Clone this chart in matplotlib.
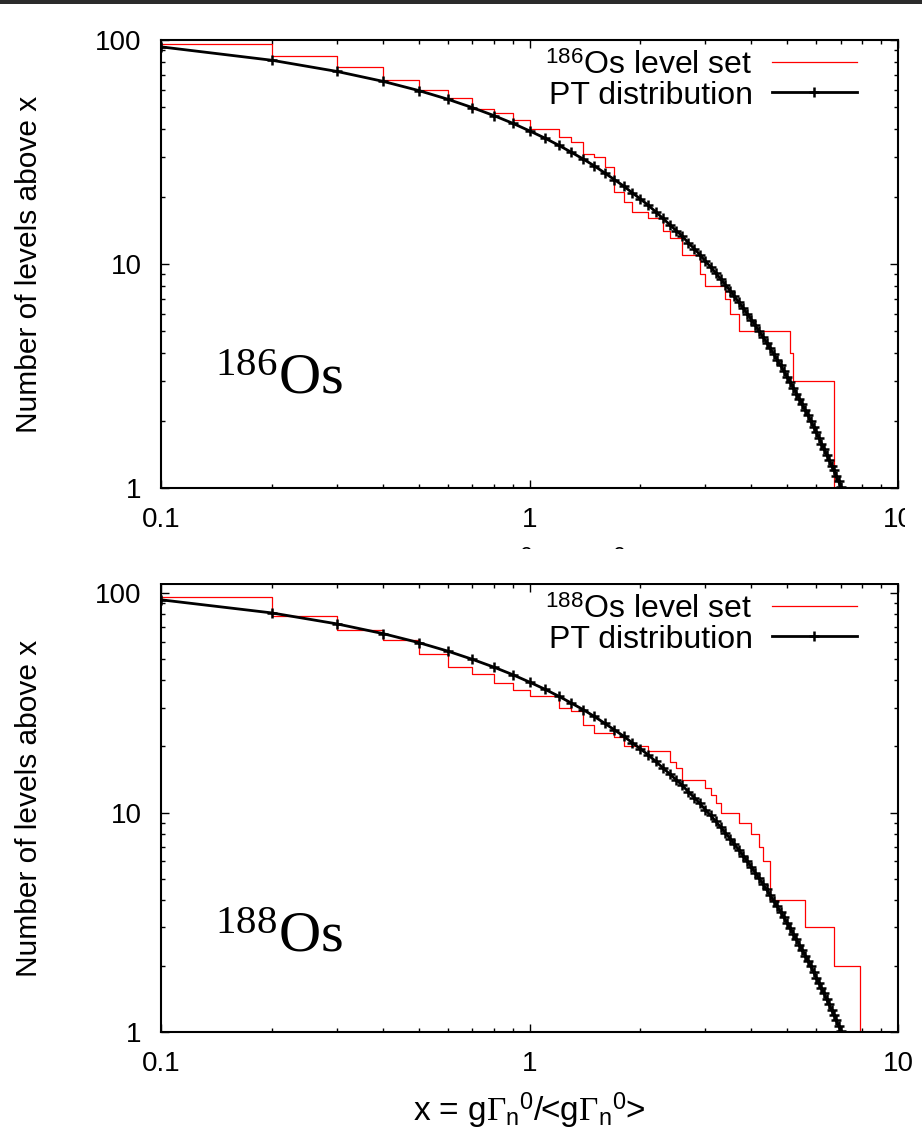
import numpy as np
import matplotlib.pyplot as plt
from matplotlib.patches import Rectangle
from matplotlib.ticker import NullFormatter

plt.rcParams['font.family'] = ['Liberation Sans', 'DejaVu Sans']
plt.rcParams['mathtext.fontset'] = 'custom'
plt.rcParams['mathtext.rm'] = 'Liberation Serif'
plt.rcParams['mathtext.it'] = 'Liberation Serif:italic'
plt.rcParams['mathtext.bf'] = 'Liberation Serif:bold'
plt.rcParams['mathtext.sf'] = 'Liberation Sans'

# Porter-Thomas curve, read at the marker positions (x = 0.1 ... 7.0)
pt_x = np.round(np.arange(1, 71) * 0.1, 1)
pt_n = [93.2, 81.2, 72.4, 65.4, 59.5, 54.4, 49.9, 46.0, 42.5, 39.3,
        36.5, 33.9, 31.5, 29.4, 27.4, 25.5, 23.8, 22.3, 20.8, 19.5,
        18.3, 17.1, 16.0, 15.0, 14.1, 13.3, 12.4, 11.7, 11.0, 10.3,
        9.71, 9.13, 8.59, 8.08, 7.61, 7.16, 6.75, 6.36, 5.99, 5.64,
        5.32, 5.01, 4.73, 4.46, 4.20, 3.96, 3.74, 3.53, 3.33, 3.14,
        2.97, 2.80, 2.64, 2.50, 2.36, 2.23, 2.11, 1.99, 1.88, 1.77,
        1.68, 1.58, 1.50, 1.41, 1.34, 1.26, 1.20, 1.13, 1.07, 1.01]

# level sets (step positions and number of levels above x)
os186_x = [0.1, 0.2, 0.3, 0.4, 0.5, 0.6, 0.7, 0.8, 0.9, 1.0, 1.2, 1.3, 1.4, 1.5, 1.6,
           1.7, 1.8, 1.9, 2.1, 2.3, 2.4, 2.6, 2.9, 3.0, 3.4, 3.5, 3.7, 5.1, 5.2, 6.7]
os186_n = [96, 85, 76, 66, 60, 55, 49, 47, 44, 40, 37, 35, 31, 30, 27,
           21, 19, 17, 16, 14, 13, 11, 9, 8, 7, 6, 5, 4, 3, 1]

os188_x = [0.1, 0.2, 0.3, 0.4, 0.5, 0.6, 0.7, 0.8, 0.9, 1.0, 1.2, 1.3, 1.4, 1.5, 1.7, 1.8,
           2.1, 2.4, 2.5, 2.6, 3.0, 3.1, 3.2, 3.3, 3.7, 4.0, 4.2, 4.3, 4.5, 5.6, 6.7, 7.9]
os188_n = [96, 79, 68, 61, 53, 46, 43, 39, 36, 34, 30, 29, 25, 23, 22, 20,
           19, 17, 16, 14, 13, 12, 11, 10, 9, 8, 7, 6, 4, 3, 2, 1]

panels = [('186', os186_x, os186_n, 100), ('188', os188_x, os188_n, 110)]

W, H = 922, 1148
fig = plt.figure(figsize=(W / 100, H / 100), dpi=100)
boxes = [(161, 40, 898, 488), (161, 584, 898, 1032)]

xlab = r'x = g$\Gamma_{\mathsf{n}}{}^{\mathsf{0}}$/<g$\Gamma_{\mathsf{n}}{}^{\mathsf{0}}$>'

for (iso, xs, ns, ytop), (l, t, r, b) in zip(panels, boxes):
    ax = fig.add_axes([l / W, 1 - b / H, (r - l) / W, (b - t) / H])
    ax.plot(xs, ns, drawstyle='steps-post', color='red', lw=0.9,
            label=r'$^{\mathsf{%s}}$Os level set' % iso)
    ax.plot(pt_x, pt_n, color='black', lw=2, marker='+', ms=7, mew=1.8,
            label='PT distribution')
    ax.set_xscale('log')
    ax.set_yscale('log')
    ax.set_xlim(0.1, 10)
    ax.set_ylim(1, ytop)
    ax.set_xticks([0.1, 1, 10])
    ax.set_xticklabels(['0.1', '1', '10'])
    ax.set_yticks([1, 10, 100])
    ax.set_yticklabels(['1', '10', '100'])
    ax.xaxis.set_minor_formatter(NullFormatter())
    ax.yaxis.set_minor_formatter(NullFormatter())
    ax.tick_params(which='both', direction='in', top=True, right=True, width=1)
    ax.tick_params(which='major', length=6, labelsize=20, pad=14)
    ax.tick_params(which='minor', length=3)
    for s in ax.spines.values():
        s.set_linewidth(1.5)

    ax.set_ylabel('Number of levels above x', fontsize=21.5)
    ax.yaxis.set_label_coords(-0.16, 0.5)
    ax.set_xlabel(xlab, fontsize=24)
    ax.xaxis.set_label_coords(0.5, -0.13 if iso == '186' else -0.132)

    ax.text(0.073, 0.212 if iso == '186' else 0.18, r'$^{%s}$Os' % iso,
            transform=ax.transAxes, fontsize=42, family='Liberation Serif',
            va='baseline', ha='left')

    ax.legend(loc='upper right', bbox_to_anchor=(0.966, 1.012), frameon=False,
              markerfirst=False, numpoints=1, fontsize=23, handlelength=2.66,
              handletextpad=0.6, borderpad=0, labelspacing=0.0)

# the second picture covers the lower part of the first one
fig.add_artist(Rectangle((0, 1 - 583 / H), 1, (583 - 549) / H, transform=fig.transFigure,
                         facecolor='white', edgecolor='none', zorder=10))
fig.add_artist(Rectangle((905 / W, 1 - 549 / H), 17 / W, (549 - 490) / H,
                         transform=fig.transFigure, facecolor='white',
                         edgecolor='none', zorder=10))
# dark strip along the top
fig.add_artist(Rectangle((0, 1 - 4 / H), 1, 4 / H, transform=fig.transFigure,
                         facecolor='#2b2b2b', edgecolor='none', zorder=10))

fig.savefig('out.png', dpi=100)
